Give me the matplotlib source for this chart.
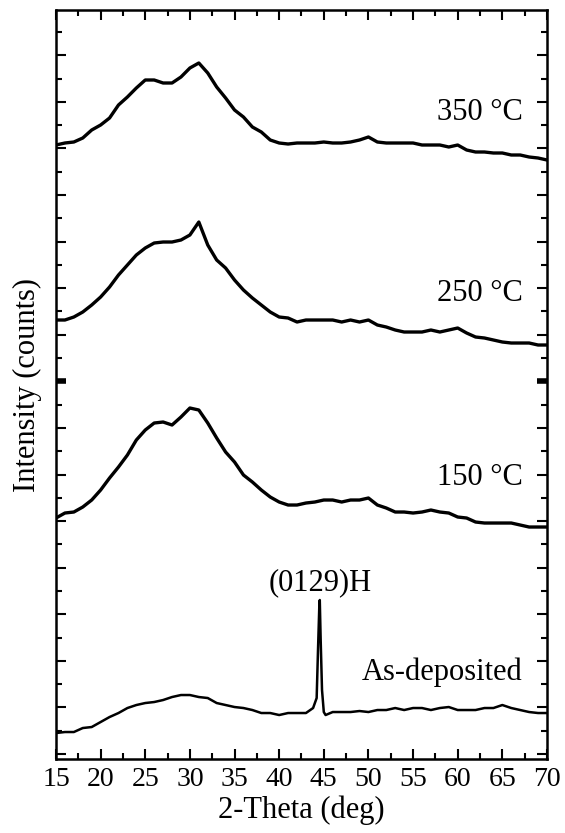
import matplotlib
matplotlib.use("Agg")
import matplotlib.pyplot as plt
from matplotlib.ticker import MultipleLocator, FixedLocator

plt.rcParams["font.family"] = ["Liberation Serif", "DejaVu Serif"]

# 2-theta grid (deg), 1 degree steps
two_theta = list(range(15, 71))

# intensities (arbitrary counts, patterns already stacked)
i_350 = [615, 617, 618, 622, 630, 635, 642, 655, 663, 672, 680, 680, 677, 677,
         683, 692, 697, 687, 673, 662, 650, 643, 633, 628, 620, 617, 616,
         617, 617, 617, 618, 617, 617, 618, 620, 623, 618, 617, 617, 617, 617,
         615, 615, 615, 613, 615, 610, 608, 608, 607, 607, 605, 605, 603, 602, 600]
i_250 = [440, 440, 443, 448, 455, 463, 473, 485, 495, 505, 512, 517, 518, 518,
         520, 525, 538, 515, 500, 492, 480, 470, 462, 455, 448, 443, 442, 438,
         440, 440, 440, 440, 438, 440, 438, 440, 435, 433, 430, 428, 428, 428,
         430, 428, 430, 432, 427, 423, 422, 420, 418, 417, 417, 417, 415, 415]
i_150 = [242, 247, 248, 253, 260, 270, 282, 293, 305, 320, 330, 337, 338, 335,
         343, 352, 350, 337, 322, 308, 298, 285, 278, 270, 263, 258, 255, 255,
         257, 258, 260, 260, 258, 260, 260, 262, 255, 252, 248, 248, 247, 248,
         250, 248, 247, 243, 242, 238, 237, 237, 237, 237, 235, 233, 233, 233]

# as-deposited pattern, with extra points across the (0129)H reflection
two_theta_asdep = [15, 16, 17, 18, 19, 20, 21, 22, 23, 24, 25, 26, 27, 28, 29,
                   30, 31, 32, 33, 34, 35, 36, 37, 38, 39, 40, 41, 42, 43, 43.8,
                   44.2, 44.35, 44.5, 44.55, 44.65, 44.8, 45.0, 45.2,
                   46, 47, 48, 49, 50, 51, 52, 53, 54, 55, 56, 57, 58, 59, 60,
                   61, 62, 63, 64, 65, 66, 67, 68, 69, 70]
i_asdep = [27, 28, 28, 32, 33, 38, 43, 47, 52, 55, 57, 58, 60, 63, 65,
           65, 63, 62, 57, 55, 53, 52, 50, 47, 47, 45, 47, 47, 47, 52,
           62, 110, 155, 160, 120, 70, 48, 45,
           48, 48, 48, 49, 48, 50, 50, 52, 50, 52, 52, 50, 52, 53, 50,
           50, 50, 52, 52, 55, 52, 50, 48, 47, 47]

labels = ["350 °C", "250 °C", "150 °C", "As-deposited"]
label_y = [648, 467, 283, 88]

fig = plt.figure(figsize=(5.65, 8.33), dpi=100)
ax = fig.add_axes([0.0991, 0.0888, 0.869, 0.8992])

for series in (i_350, i_250, i_150):
    ax.plot(two_theta, series, color="black", lw=2.4)
ax.plot(two_theta_asdep, i_asdep, color="black", lw=1.8)

for text, y in zip(labels, label_y):
    ax.text(67.3, y, text, ha="right", va="center", fontsize=22)
ax.text(44.6, 177, "(0129)H", ha="center", va="center", fontsize=22)

ax.set_xlim(15, 70)
ax.set_ylim(1, 750)
ax.xaxis.set_major_locator(MultipleLocator(5))
ax.xaxis.set_minor_locator(MultipleLocator(2.5))
step = 23.29
ax.yaxis.set_major_locator(FixedLocator([6 + 2 * step * k for k in range(16)]))
ax.yaxis.set_minor_locator(FixedLocator([6 + step * (2 * k + 1) for k in range(16)]))
ax.set_yticklabels([])
ax.tick_params(which="both", direction="in", top=True, right=True, width=1.5,
               labelsize=20, pad=6)
ax.tick_params(which="major", length=7)
ax.tick_params(which="minor", length=4)
for t in ax.yaxis.get_major_ticks()[8:9]:
    t.tick1line.set_markeredgewidth(4)
    t.tick2line.set_markeredgewidth(4)
for s in ax.spines.values():
    s.set_linewidth(1.8)

ax.set_xlabel("2-Theta (deg)", fontsize=22, labelpad=2)
ax.set_ylabel("Intensity (counts)", fontsize=22, labelpad=4)

fig.savefig("out.png", dpi=100)
